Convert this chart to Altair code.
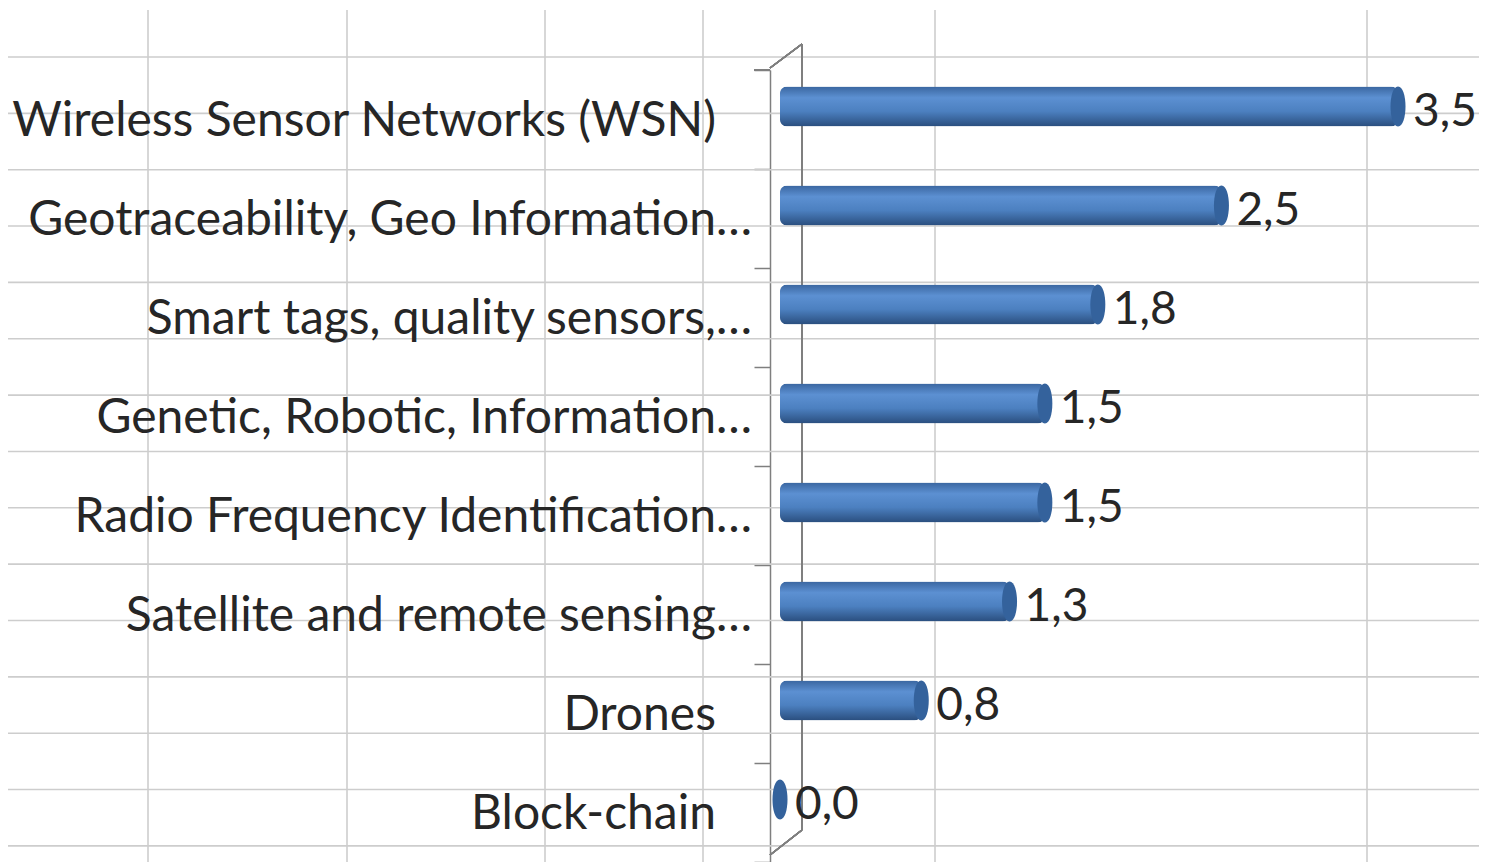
import altair as alt
import pandas as pd

# ---- chart data ----
categories = [
    "Wireless Sensor Networks (WSN)",
    "Geotraceability, Geo Information…",
    "Smart tags, quality sensors,…",
    "Genetic, Robotic, Information…",
    "Radio Frequency Identification…",
    "Satellite and remote sensing…",
    "Drones",
    "Block-chain",
]
values = [3.5, 2.5, 1.8, 1.5, 1.5, 1.3, 0.8, 0.0]

df = pd.DataFrame({"cat": categories, "value": values})

# ---- decorative spreadsheet grid behind the chart (pixel space) ----
col_lines = [-622, -423, -225, -67, 165, 597]
row_lines = [-13 + 56.35 * k for k in range(15)]
vgrid = pd.DataFrame({"gx": col_lines})
hgrid = pd.DataFrame({"gy": row_lines})

FONT = "Lato"
TXT = "#262626"
W, H = 709, 792

yenc = alt.Y(
    "cat:N",
    sort=categories,
    scale=alt.Scale(domain=categories, paddingInner=0, paddingOuter=0),
    axis=alt.Axis(
        labels=False, title=None, grid=False,
        domain=True, domainColor="#7f7f7f", domainWidth=1.5,
        ticks=True, tickBand="extent", tickSize=16,
        tickColor="#7f7f7f", tickWidth=1.5,
    ),
)
xenc = alt.X(
    "value:Q",
    scale=alt.Scale(domain=[-0.0566, 3.9587], nice=False, zero=False),
    axis=None,
)

grid_v = alt.Chart(vgrid).mark_rule(color="#cdcdcd", strokeWidth=1.6).encode(
    x=alt.X("gx:Q", scale=None, axis=None),
    y=alt.value(-60),
    y2=alt.value(H),
)
grid_h = alt.Chart(hgrid).mark_rule(color="#cdcdcd", strokeWidth=1.6).encode(
    y=alt.Y("gy:Q", scale=None, axis=None),
    x=alt.value(-770),
    x2=alt.value(717),
)
grid = alt.layer(grid_v, grid_h).resolve_scale(x="independent", y="independent")

frame_style = dict(color="#7f7f7f", strokeWidth=1.5)
back_wall = alt.Chart(df).mark_rule(**frame_style).encode(
    x=alt.value(32), y=alt.value(-26), y2=alt.value(760))
top_diag = alt.Chart(df).mark_rule(**frame_style).encode(
    x=alt.value(0), y=alt.value(-2), x2=alt.value(32), y2=alt.value(-26))
bot_diag = alt.Chart(df).mark_rule(**frame_style).encode(
    x=alt.value(32), y=alt.value(760), x2=alt.value(0), y2=alt.value(785))
top_tick = alt.Chart(df).mark_rule(**frame_style).encode(
    x=alt.value(-16), x2=alt.value(0), y=alt.value(0))
frame = alt.layer(back_wall, top_diag, bot_diag, top_tick)

grad = alt.Gradient(
    gradient="linear",
    stops=[
        alt.GradientStop(color="#3A66A0", offset=0),
        alt.GradientStop(color="#5C90D2", offset=0.28),
        alt.GradientStop(color="#4C80C0", offset=0.62),
        alt.GradientStop(color="#2A4E7E", offset=1),
    ],
    x1=0, x2=0, y1=0, y2=1,
)

base = alt.Chart(df)
bars = base.mark_bar(color=grad, size=40, yOffset=-13, cornerRadius=7).encode(
    x=xenc, y=yenc)

ellipse = "M0,-1 C0.5,-1 0.5,1 0,1 C-0.5,1 -0.5,-1 0,-1 Z"
caps = base.mark_point(shape=ellipse, size=1600, filled=True, opacity=1,
                       color="#34629C", yOffset=-13, strokeWidth=0).encode(
    x=xenc, y=alt.Y("cat:N", sort=categories))

vals = base.transform_calculate(
    lbl="replace(format(datum.value, '.1f'), '.', ',')"
).mark_text(align="left", baseline="middle", dx=15, yOffset=-8,
            font=FONT, fontSize=46, color=TXT).encode(
    x=xenc, y=alt.Y("cat:N", sort=categories), text="lbl:N")

lab_full = base.transform_filter("indexof(datum.cat, '…') < 0").mark_text(
    align="right", baseline="middle", yOffset=2, font=FONT, fontSize=48,
    color=TXT).encode(
    x=alt.value(-54), y=alt.Y("cat:N", sort=categories), text="cat:N")
lab_trunc = base.transform_filter("indexof(datum.cat, '…') >= 0").mark_text(
    align="right", baseline="middle", yOffset=2, font=FONT, fontSize=48,
    color=TXT).encode(
    x=alt.value(-18), y=alt.Y("cat:N", sort=categories), text="cat:N")

main = alt.layer(frame, bars, caps, vals, lab_full, lab_trunc)

chart = alt.layer(grid, main).resolve_scale(
    x="independent", y="independent"
).properties(
    width=W, height=H,
    autosize=alt.AutoSizeParams(type="none"),
    padding={"left": 762, "top": 62, "right": 0, "bottom": 0},
    background="white",
).configure_view(stroke=None)

chart.save("out.html", embed_options={"renderer": "svg", "actions": False})
